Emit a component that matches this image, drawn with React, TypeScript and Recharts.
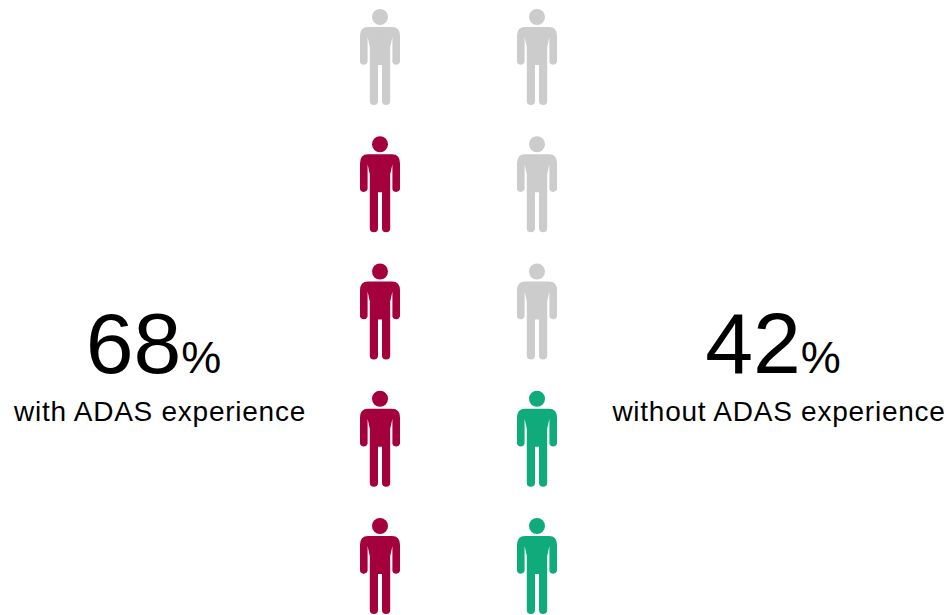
import { ScatterChart, Scatter, XAxis, YAxis } from 'recharts';

const rows = [0, 1, 2, 3, 4];
// 1 = highlighted figure, 0 = grey figure, listed from top to bottom
const withAdas = [0, 1, 1, 1, 1];
const withoutAdas = [0, 0, 0, 1, 1];
const withPercent = '68';
const withoutPercent = '42';
const withLabel = 'with ADAS experience';
const withoutLabel = 'without ADAS experience';

const GREY = '#cccccc';
const RED = '#a3003c';
const GREEN = '#0fab7b';
const FONT = '"Liberation Sans", Arial, sans-serif';

const withData = rows.map((row, i) => ({ column: 0, row, on: withAdas[i] }));
const withoutData = rows.map((row, i) => ({ column: 1, row, on: withoutAdas[i] }));

const BODY_PATH =
    'M-12,-30 L12,-30 Q20,-30 20,-21 L20,5 A4,4 0 0 1 12.4,5 L12.4,-20 L10.2,-10 L10.2,44 A4,4 0 0 1 2,44 L2,8 ' +
    'L-2,8 L-2,44 A4,4 0 0 1 -10.2,44 L-10.2,-10 L-12.4,-20 L-12.4,5 A4,4 0 0 1 -20,5 L-20,-21 Q-20,-30 -12,-30 Z';

const person = (color: string) => (props: any) => {
    const { cx, cy, payload } = props;
    const fill = payload.on ? color : GREY;
    return (
        <g transform={`translate(${cx},${cy})`}>
            <circle cx={0} cy={-40} r={8} fill={fill} />
            <path d={BODY_PATH} fill={fill} />
        </g>
    );
};

const Stat = ({ x, labelX, percent, label }: { x: number; labelX: number; percent: string; label: string }) => (
    <g fontFamily={FONT} fill="#000000">
        <text x={x} y={373} textAnchor="middle">
            <tspan fontSize={86}>{percent}</tspan>
            <tspan fontSize={45}>%</tspan>
        </text>
        <text x={labelX} y={421} textAnchor="middle" fontSize={28} letterSpacing={0.75}>{label}</text>
    </g>
);

export default function App() {
    return (
        <div style={{ position: 'absolute', left: 0, top: 0, width: 949, height: 615 }}>
            <ScatterChart width={949} height={615} margin={{ left: 380, right: 412, top: 57, bottom: 49 }}>
                <XAxis type="number" dataKey="column" domain={[0, 1]} hide />
                <YAxis type="number" dataKey="row" domain={[0, 4]} reversed hide />
                <Scatter data={withData} shape={person(RED)} isAnimationActive={false} />
                <Scatter data={withoutData} shape={person(GREEN)} isAnimationActive={false} />
                <Stat x={153.5} labelX={160} percent={withPercent} label={withLabel} />
                <Stat x={773} labelX={779} percent={withoutPercent} label={withoutLabel} />
            </ScatterChart>
        </div>
    );
}
